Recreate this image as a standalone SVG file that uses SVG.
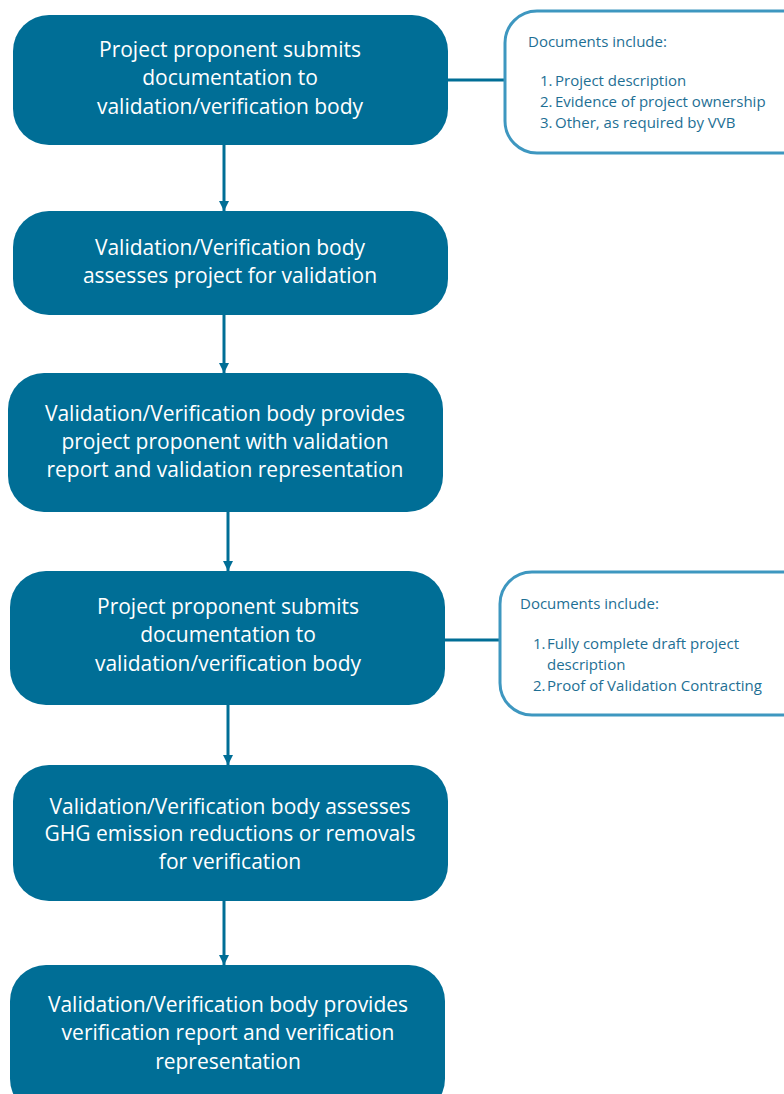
<svg xmlns="http://www.w3.org/2000/svg" width="784" height="1094" viewBox="0 0 784 1094">
<style>
.box{fill:#006e96;}
.bt{font-family:"Open Sans","Noto Sans",sans-serif;font-size:21px;fill:#ffffff;text-anchor:middle;}
.call{fill:#ffffff;stroke:#3e97c0;stroke-width:3;}
.ct{font-family:"Open Sans","Noto Sans",sans-serif;font-size:15px;fill:#1e6f94;}
.conn{stroke:#006e96;stroke-width:3;fill:none;}
</style>
<defs>
<marker id="ah" markerWidth="12" markerHeight="10" refX="10" refY="5" orient="auto" markerUnits="userSpaceOnUse">
<path d="M0,0 L10,5 L0,10 Z" fill="#006e96"/>
</marker>
</defs>
<rect width="784" height="1094" fill="#ffffff"/>
<g id="connectors">
<line class="conn" x1="224" y1="145" x2="224" y2="211" marker-end="url(#ah)"/>
<line class="conn" x1="224" y1="315" x2="224" y2="373" marker-end="url(#ah)"/>
<line class="conn" x1="228" y1="512" x2="228" y2="571" marker-end="url(#ah)"/>
<line class="conn" x1="228" y1="705" x2="228" y2="765" marker-end="url(#ah)"/>
<line class="conn" x1="224" y1="901" x2="224" y2="965" marker-end="url(#ah)"/>
<line class="conn" x1="448" y1="80" x2="505" y2="80"/>
<line class="conn" x1="445" y1="640" x2="500" y2="640"/>
</g>
<g id="n1">
<rect class="box" x="13" y="15" width="435" height="130" rx="36"/>
<text class="bt"><tspan x="230" y="57">Project proponent submits</tspan><tspan x="230" y="85">documentation to</tspan><tspan x="230" y="114">validation/verification body</tspan></text>
</g>
<g id="n2">
<rect class="box" x="13" y="211" width="435" height="104" rx="36"/>
<text class="bt"><tspan x="230" y="255">Validation/Verification body</tspan><tspan x="230" y="283">assesses project for validation</tspan></text>
</g>
<g id="n3">
<rect class="box" x="8" y="373" width="435" height="139" rx="36"/>
<text class="bt"><tspan x="225" y="421">Validation/Verification body provides</tspan><tspan x="225" y="449">project proponent with validation</tspan><tspan x="225" y="477">report and validation representation</tspan></text>
</g>
<g id="n4">
<rect class="box" x="10" y="571" width="435" height="134" rx="36"/>
<text class="bt"><tspan x="228" y="614">Project proponent submits</tspan><tspan x="228" y="642">documentation to</tspan><tspan x="228" y="671">validation/verification body</tspan></text>
</g>
<g id="n5">
<rect class="box" x="13" y="765" width="435" height="136" rx="36"/>
<text class="bt"><tspan x="230" y="814">Validation/Verification body assesses</tspan><tspan x="230" y="841">GHG emission reductions or removals</tspan><tspan x="230" y="869">for verification</tspan></text>
</g>
<g id="n6">
<rect class="box" x="10" y="965" width="435" height="150" rx="36"/>
<text class="bt"><tspan x="228" y="1012">Validation/Verification body provides</tspan><tspan x="228" y="1040">verification report and verification</tspan><tspan x="228" y="1069">representation</tspan></text>
</g>
<g id="c1">
<rect class="call" x="505" y="11" width="310" height="142" rx="32"/>
<text class="ct"><tspan x="528" y="47">Documents include:</tspan><tspan x="540" y="86">1.</tspan><tspan x="555" y="86">Project description</tspan><tspan x="540" y="107">2.</tspan><tspan x="555" y="107">Evidence of project ownership</tspan><tspan x="540" y="128">3.</tspan><tspan x="555" y="128">Other, as required by VVB</tspan></text>
</g>
<g id="c2">
<rect class="call" x="500" y="572" width="315" height="143" rx="32"/>
<text class="ct"><tspan x="520" y="609">Documents include:</tspan><tspan x="533" y="649">1.</tspan><tspan x="547" y="649">Fully complete draft project</tspan><tspan x="547" y="670">description</tspan><tspan x="533" y="691">2.</tspan><tspan x="547" y="691">Proof of Validation Contracting</tspan></text>
</g>
</svg>
